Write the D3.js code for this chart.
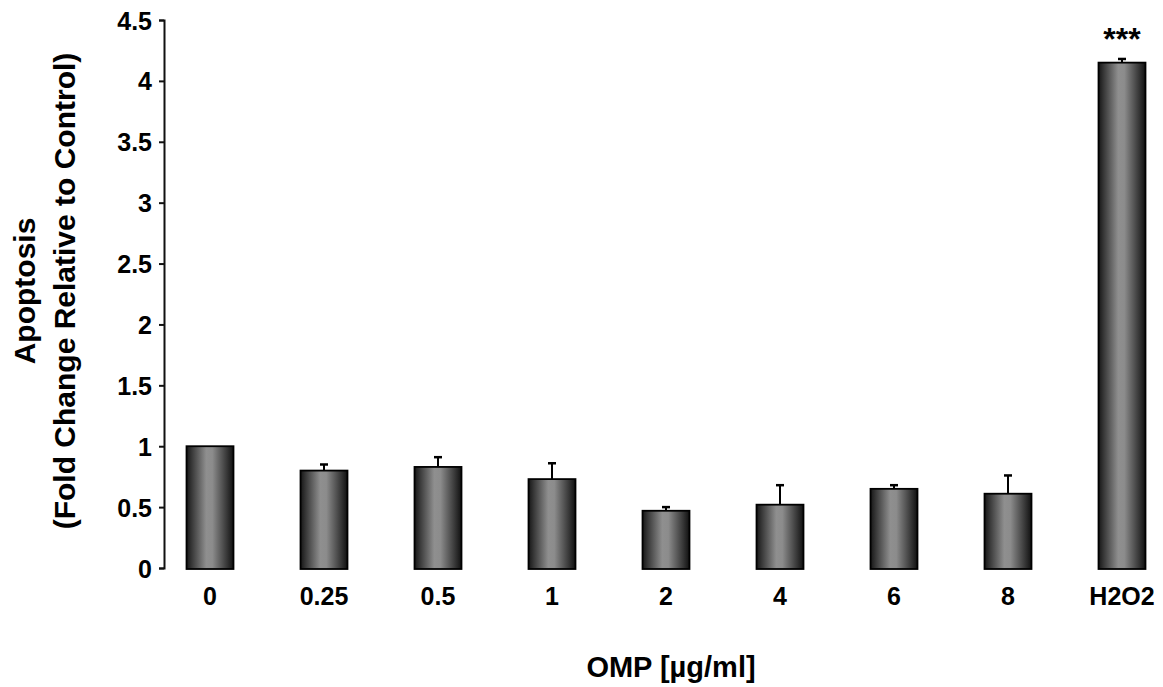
<!DOCTYPE html>
<html>
<head>
<meta charset="utf-8">
<script src="https://cdn.jsdelivr.net/npm/d3@7"></script>
<style>
  html, body { margin: 0; padding: 0; background: #fff; }
  svg { display: block; }
  text { font-family: "Liberation Sans", Arial, sans-serif; font-weight: bold; fill: #000; }
</style>
</head>
<body>
<svg id="chart" width="1163" height="687"></svg>
<script>
const categories = ["0", "0.25", "0.5", "1", "2", "4", "6", "8", "H2O2"];
const values     = [1.00, 0.80, 0.83, 0.73, 0.47, 0.52, 0.65, 0.61, 4.15];
const errors     = [0.00, 0.05, 0.08, 0.13, 0.03, 0.16, 0.03, 0.15, 0.03];
const yTicks     = [0, 0.5, 1, 1.5, 2, 2.5, 3, 3.5, 4, 4.5];
const yTickLabels = ["0", "0.5", "1", "1.5", "2", "2.5", "3", "3.5", "4", "4.5"];
const significance = ["", "", "", "", "", "", "", "", "***"];

const svg = d3.select("#chart");

const x = d3.scaleBand()
  .domain(categories)
  .range([153, 1179])
  .paddingInner(0.588)
  .paddingOuter(0.294);

const y = d3.scaleLinear().domain([0, 4.5]).range([568, 20]);

// gradient
const defs = svg.append("defs");
const grad = defs.append("linearGradient").attr("id", "barGrad")
  .attr("x1", "0%").attr("x2", "100%").attr("y1", "0%").attr("y2", "0%");
[[0, "#161616"], [0.12, "#3a3a3a"], [0.42, "#8f8f8f"], [0.55, "#8c8c8c"], [0.85, "#3a3a3a"], [1, "#101010"]]
  .forEach(([o, c]) => grad.append("stop").attr("offset", o).attr("stop-color", c));

// y axis
const yAxis = d3.axisLeft(y)
  .tickValues(yTicks)
  .tickFormat((d, i) => yTickLabels[i])
  .tickSize(5)
  .tickSizeOuter(5);

const gy = svg.append("g").attr("transform", "translate(164,0)").call(yAxis);
gy.select(".domain").attr("stroke", "#111").attr("stroke-width", 2);
gy.selectAll(".tick line").attr("stroke", "#111").attr("stroke-width", 2);
gy.selectAll(".tick text")
  .attr("x", -12)
  .attr("dy", "0.36em")
  .style("font-size", "25px")
  .style("font-family", "'Liberation Sans', Arial, sans-serif")
  .style("font-weight", "bold")
  .attr("fill", "#000");

// bars
const bars = svg.append("g");
bars.selectAll("rect").data(categories).join("rect")
  .attr("x", d => x(d))
  .attr("width", x.bandwidth())
  .attr("y", (d, i) => y(values[i]))
  .attr("height", (d, i) => y(0) - y(values[i]) + 1)
  .attr("fill", "url(#barGrad)")
  .attr("stroke", "#000")
  .attr("stroke-width", 1.8);

// error bars (upper only)
const eb = svg.append("g").attr("stroke", "#000");
categories.forEach((c, i) => {
  if (errors[i] <= 0) return;
  const cx = x(c) + x.bandwidth() / 2;
  eb.append("line").attr("x1", cx).attr("x2", cx)
    .attr("y1", y(values[i])).attr("y2", y(values[i] + errors[i]))
    .attr("stroke-width", 2);
  eb.append("line").attr("x1", cx - 4).attr("x2", cx + 4)
    .attr("y1", y(values[i] + errors[i])).attr("y2", y(values[i] + errors[i]))
    .attr("stroke-width", 2.5);
});

// significance stars
svg.append("g").selectAll("text").data(categories).join("text")
  .attr("x", d => x(d) + x.bandwidth() / 2)
  .attr("y", 50)
  .attr("text-anchor", "middle")
  .style("font-size", "32px")
  .text((d, i) => significance[i]);

// x labels
svg.append("g").selectAll("text").data(categories).join("text")
  .attr("x", d => x(d) + x.bandwidth() / 2)
  .attr("y", 605)
  .attr("text-anchor", "middle")
  .style("font-size", "25px")
  .text(d => d);

// x title
svg.append("text")
  .attr("x", 671)
  .attr("y", 677)
  .attr("text-anchor", "middle")
  .style("font-size", "29px")
  .text("OMP [µg/ml]");

// y title
const yt = svg.append("text")
  .attr("transform", "translate(0,291) rotate(-90)")
  .attr("text-anchor", "middle")
  .style("font-size", "30px");
yt.append("tspan").attr("x", 0).attr("y", 35).text("Apoptosis");
yt.append("tspan").attr("x", 0).attr("y", 75).text("(Fold Change Relative to Control)");
</script>
</body>
</html>
